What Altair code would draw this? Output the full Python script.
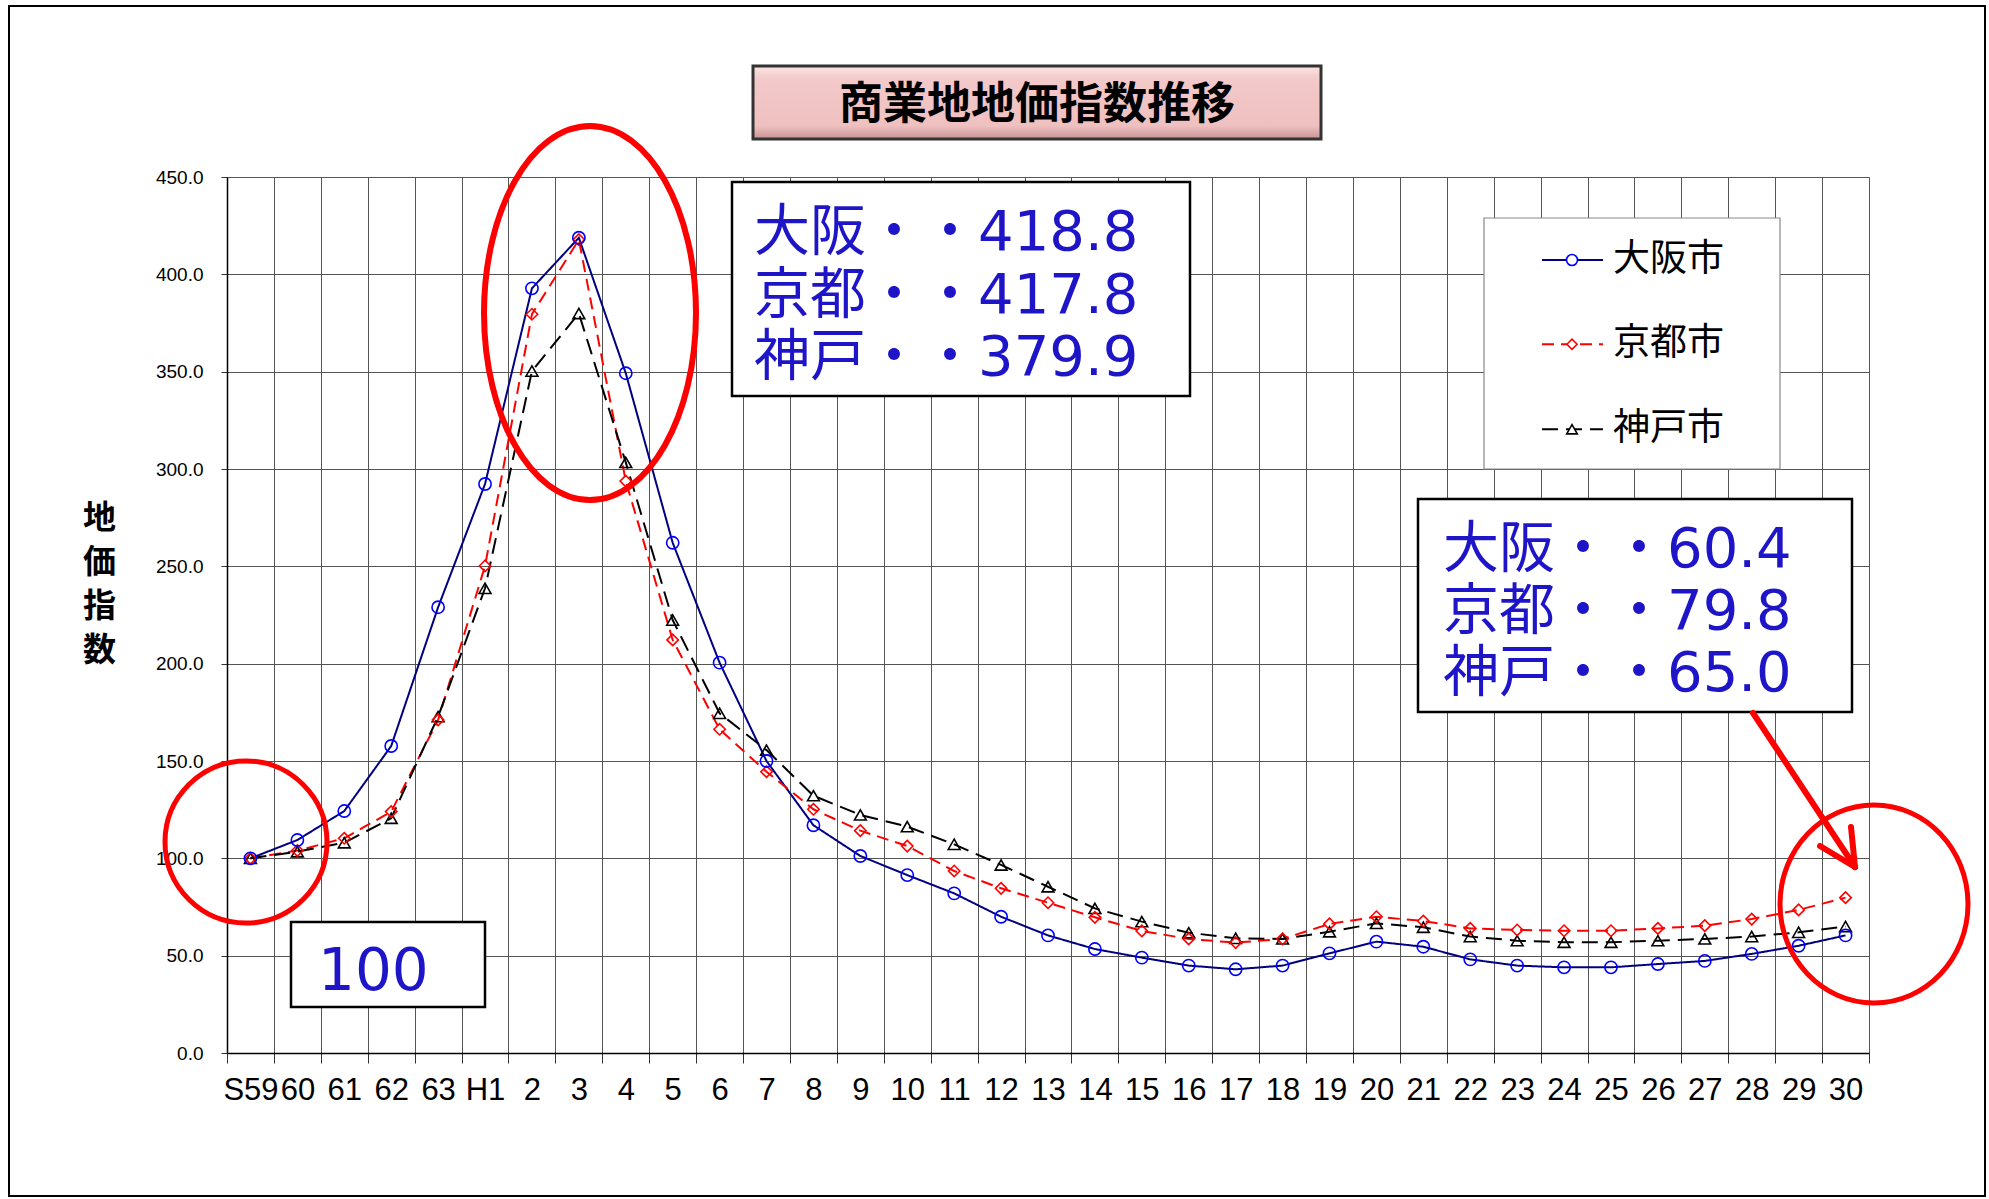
import altair as alt
import pandas as pd

# ---------------- data ----------------
years = ["S59", "60", "61", "62", "63", "H1", "2", "3", "4", "5", "6", "7", "8", "9", "10",
         "11", "12", "13", "14", "15", "16", "17", "18", "19", "20", "21", "22", "23", "24", "25",
         "26", "27", "28", "29", "30"]
osaka = [100.0, 109.4, 124.3, 157.7, 229.0, 292.3, 392.8, 418.8, 349.2, 262.1, 200.5, 150.0,
         117.0, 101.2, 91.4, 82.0, 70.0, 60.4, 53.4, 49.0, 44.9, 43.0, 44.9, 51.2, 57.2, 54.6,
         48.1, 44.9, 44.0, 44.0, 45.7, 47.3, 50.9, 55.1, 60.4]
kyoto = [100.0, 104.0, 110.3, 124.0, 171.1, 250.2, 379.5, 417.8, 293.8, 212.2, 166.3, 144.5,
         125.2, 114.2, 106.3, 93.5, 84.6, 77.2, 69.7, 62.7, 58.6, 56.7, 58.6, 66.3, 70.0, 67.8,
         64.0, 63.2, 62.8, 62.8, 64.0, 65.4, 68.8, 73.5, 79.8]
kobe = [100.0, 103.4, 108.0, 120.6, 172.8, 238.7, 350.3, 379.9, 303.4, 222.4, 174.5, 155.6,
        132.2, 122.3, 116.3, 107.2, 96.6, 85.4, 74.3, 67.5, 61.8, 58.9, 58.6, 62.3, 66.6, 64.6,
        59.8, 57.7, 56.9, 56.9, 57.7, 58.6, 59.8, 62.0, 65.0]
cities = ["大阪市", "京都市", "神戸市"]
short_names = ["大阪", "京都", "神戸"]
y_ticks = [0, 50, 100, 150, 200, 250, 300, 350, 400, 450]
title_text = "商業地地価指数推移"
y_title = ["地", "価", "指", "数"]

series = [osaka, kyoto, kobe]
rows = []
for city, vals in zip(cities, series):
    for yr, v in zip(years, vals):
        rows.append({"年": yr, "都市": city, "指数": v})
df = pd.DataFrame(rows)

# ---------------- styles ----------------
line_colors = ["#000080", "#ff0000", "#000000"]
marker_colors = ["#0000ff", "#ff0000", "#000000"]
dashes = [[1, 0], [12, 7], [16, 8]]
shapes = ["circle", "diamond", "triangle-up"]
sizes = [150, 130, 140]

W, H = 1642, 876
OX, OY = 227, 177   # plot origin in page pixels


def px(x):
    return x - OX


def py(y):
    return y - OY


CJK = "Noto Sans CJK JP"
ANNO_FONT = "DejaVu Sans, Noto Sans CJK JP, sans-serif"
BLUE_TXT = "#1e14c8"

x_axis = alt.Axis(title=None, labelAngle=0, labelFont="Liberation Sans", labelFontSize=31,
                  labelColor="black", labelPadding=12, labelOverlap=False,
                  tickBand="extent", grid=True, gridColor="#555555", gridWidth=1,
                  ticks=True, tickSize=10, tickColor="#333333", domainColor="black",
                  domainWidth=1.5)
y_axis = alt.Axis(values=y_ticks, format=".1f", labelFont="Liberation Sans",
                  labelFontSize=19, labelColor="black", labelPadding=18,
                  tickSize=6, tickColor="#333333", domainColor="black", domainWidth=1.5,
                  grid=True, gridColor="#555555", gridWidth=1,
                  title=y_title, titleAngle=0, titleAlign="center", titleBaseline="top",
                  titleX=-128, titleY=325, titleFont=CJK, titleFontSize=33,
                  titleFontWeight="bold", titleLineHeight=44, titleColor="black")

x_enc = alt.X("年:N", sort=years,
              scale=alt.Scale(type="band", paddingInner=0, paddingOuter=0), axis=x_axis)
y_enc = alt.Y("指数:Q", scale=alt.Scale(domain=[0, 450], nice=False, zero=True), axis=y_axis)

one = pd.DataFrame({"k": [0]})
layers = []

# outer frame
layers.append(alt.Chart(one).mark_rect(fillOpacity=0, stroke="black", strokeWidth=2).encode(
    x=alt.value(px(9)), x2=alt.value(px(1985)), y=alt.value(py(6)), y2=alt.value(py(1196))))

# title box
grad = alt.Gradient(gradient="linear", x1=0, x2=0, y1=0, y2=1, stops=[
    alt.GradientStop(offset=0, color="#fbe3e3"),
    alt.GradientStop(offset=0.18, color="#f3c9c9"),
    alt.GradientStop(offset=0.82, color="#efc0c0"),
    alt.GradientStop(offset=1, color="#c89393")])
layers.append(alt.Chart(one).mark_rect(fill=grad, stroke="#333333", strokeWidth=3).encode(
    x=alt.value(px(753)), x2=alt.value(px(1321)), y=alt.value(py(66)), y2=alt.value(py(139))))
layers.append(alt.Chart(one).mark_text(font=CJK, fontSize=44, fontWeight="bold", color="black",
                                       align="center", baseline="alphabetic").encode(
    x=alt.value(px(1037)), y=alt.value(py(119)), text=alt.value(title_text)))

# series
for i, city in enumerate(cities):
    base = alt.Chart(df).transform_filter(alt.datum["都市"] == city)
    layers.append(base.mark_line(color=line_colors[i], strokeWidth=2,
                                 strokeDash=dashes[i]).encode(x=x_enc, y=y_enc))
for i, city in enumerate(cities[::-1]):
    j = 2 - i
    base = alt.Chart(df).transform_filter(alt.datum["都市"] == city)
    layers.append(base.mark_point(shape=shapes[j], size=sizes[j], filled=False,
                                  color=marker_colors[j], strokeWidth=1.6, opacity=1).encode(
        x=x_enc, y=y_enc))


def ellipse_path(rx, ry):
    k = 0.5523
    f = lambda v: f"{v:.4f}"
    return (f"M{f(rx)},0 C{f(rx)},{f(k*ry)} {f(k*rx)},{f(ry)} 0,{f(ry)} "
            f"C{f(-k*rx)},{f(ry)} {f(-rx)},{f(k*ry)} {f(-rx)},0 "
            f"C{f(-rx)},{f(-k*ry)} {f(-k*rx)},{f(-ry)} 0,{f(-ry)} "
            f"C{f(k*rx)},{f(-ry)} {f(rx)},{f(-k*ry)} {f(rx)},0 Z")


# red ellipses (cx, cy, rx, ry, stroke)
ellipses = [(590, 313, 106, 187, 6), (246, 842, 81, 81, 5), (1874, 904, 94, 99, 5)]
for cx, cy, rx, ry, sw in ellipses:
    m = max(rx, ry)
    layers.append(alt.Chart(one).mark_point(shape=ellipse_path(rx / m, ry / m), size=(2 * m) ** 2,
                                            filled=False, color="#ff0000", strokeWidth=sw,
                                            opacity=1).encode(
        x=alt.value(px(cx)), y=alt.value(py(cy))))

# annotation boxes
boxes = [(732, 1190, 182, 396), (1418, 1852, 499, 712), (291, 485, 922, 1007)]
for x1, x2, y1, y2 in boxes:
    layers.append(alt.Chart(one).mark_rect(fill="white", stroke="black", strokeWidth=2.5).encode(
        x=alt.value(px(x1)), x2=alt.value(px(x2)), y=alt.value(py(y1)), y2=alt.value(py(y2))))

peak_text = "\n".join(f"{n}・・{v[7]:.1f}" for n, v in zip(short_names, series))
last_text = "\n".join(f"{n}・・{v[-1]:.1f}" for n, v in zip(short_names, series))
layers.append(alt.Chart(one).mark_text(font=ANNO_FONT, fontSize=56, color=BLUE_TXT, align="left",
                                       baseline="alphabetic", lineBreak="\n",
                                       lineHeight=62.5).encode(
    x=alt.value(px(754)), y=alt.value(py(250)), text=alt.value(peak_text)))
layers.append(alt.Chart(one).mark_text(font=ANNO_FONT, fontSize=56, color=BLUE_TXT, align="left",
                                       baseline="alphabetic", lineBreak="\n",
                                       lineHeight=62).encode(
    x=alt.value(px(1443)), y=alt.value(py(567)), text=alt.value(last_text)))
layers.append(alt.Chart(one).mark_text(font=ANNO_FONT, fontSize=58, color=BLUE_TXT, align="left",
                                       baseline="alphabetic").encode(
    x=alt.value(px(318)), y=alt.value(py(990)), text=alt.value(f"{osaka[0]:.0f}")))

# legend
layers.append(alt.Chart(one).mark_rect(fill="white", stroke="#888888", strokeWidth=1.2).encode(
    x=alt.value(px(1484)), x2=alt.value(px(1780)), y=alt.value(py(218)), y2=alt.value(py(469))))
leg_rows = [260, 344.3, 429.3]
for i, city in enumerate(cities):
    yy = py(leg_rows[i])
    layers.append(alt.Chart(one).mark_rule(color=line_colors[i], strokeWidth=2,
                                           strokeDash=dashes[i]).encode(
        x=alt.value(px(1542)), x2=alt.value(px(1603)), y=alt.value(yy)))
    layers.append(alt.Chart(one).mark_point(shape=shapes[i], size=sizes[i] * 0.8, filled=True,
                                            fill="white", stroke=marker_colors[i],
                                            strokeWidth=1.6, opacity=1).encode(
        x=alt.value(px(1572)), y=alt.value(yy)))
    layers.append(alt.Chart(one).mark_text(font=CJK, fontSize=37, color="black", align="left",
                                           baseline="middle").encode(
        x=alt.value(px(1613)), y=alt.value(yy), text=alt.value(city)))

# arrow
arrow = [((1753, 713), (1855, 867)), ((1820, 846), (1855, 867)), ((1851, 827), (1855, 867))]
for (ax1, ay1), (ax2, ay2) in arrow:
    layers.append(alt.Chart(one).mark_rule(color="#ff0000", strokeWidth=6, strokeCap="round").encode(
        x=alt.value(px(ax1)), y=alt.value(py(ay1)), x2=alt.value(px(ax2)), y2=alt.value(py(ay2))))

chart = alt.layer(*layers).properties(
    width=W, height=H,
    autosize=alt.AutoSizeParams(type="none"),
    padding={"left": OX, "top": OY, "right": 1989 - OX - W, "bottom": 1199 - OY - H},
    background="white",
).configure_view(stroke=None)

chart.save("out.html", embed_options={"renderer": "svg", "actions": False})
